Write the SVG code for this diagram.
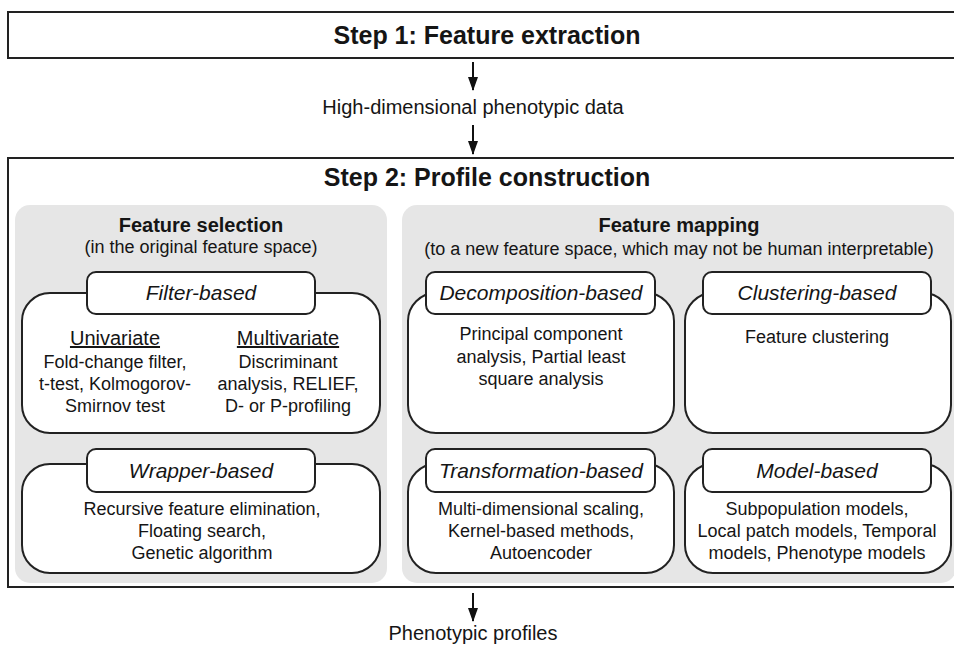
<svg xmlns="http://www.w3.org/2000/svg" width="954" height="645" viewBox="0 0 954 645">
<defs>
<style>
text{font-family:"Liberation Sans",Arial,sans-serif;fill:#151515;text-anchor:middle}
.title{font-size:25px;font-weight:bold}
.head{font-size:20px;font-weight:bold}
.sub{font-size:18px}
.lbl{font-size:20px}
.tab{font-size:21px;font-style:italic}
.body{font-size:18px}
.cat{font-size:20px;text-decoration:underline}
.step{fill:#fff;stroke:#222;stroke-width:2}
.panel{fill:#e6e6e6;stroke:none}
.outer{fill:#fff;stroke:#222;stroke-width:2}
.tabbox{fill:#fff;stroke:#222;stroke-width:2}
.conn{stroke:#111;stroke-width:2;fill:none}
</style>
<marker id="ah" viewBox="0 0 14 10" refX="13" refY="5" markerWidth="14" markerHeight="10" markerUnits="userSpaceOnUse" orient="auto">
<path d="M0,0 L14,5 L0,10 Z" fill="#111"/>
</marker>
</defs>

<g id="step1">
<rect class="step" x="8" y="12" width="960" height="46"/>
<text class="title" x="487" y="44">Step 1: Feature extraction</text>
</g>

<g id="data-label">
<text class="lbl" x="473" y="114">High-dimensional phenotypic data</text>
</g>

<g id="step2">
<rect class="step" x="8" y="158" width="960" height="429"/>
<text class="title" x="487" y="186">Step 2: Profile construction</text>
</g>

<g id="feature-selection">
<rect class="panel" x="15" y="205" width="372" height="378" rx="15"/>
<text class="head" x="201" y="232">Feature selection</text>
<text class="sub" x="201" y="253">(in the original feature space)</text>
</g>

<g id="feature-mapping">
<rect class="panel" x="402" y="205" width="554" height="378" rx="15"/>
<text class="head" x="679" y="232">Feature mapping</text>
<text class="sub" x="679" y="255">(to a new feature space, which may not be human interpretable)</text>
</g>

<g id="filter-based">
<rect class="outer" x="22" y="293" width="358" height="140" rx="28"/>
<rect class="tabbox" x="87" y="272" width="228" height="42" rx="9"/>
<text class="tab" x="201" y="300">Filter-based</text>
<text class="cat" x="115" y="345">Univariate</text>
<text class="body" x="115" y="368">Fold-change filter,</text>
<text class="body" x="115" y="390">t-test, Kolmogorov-</text>
<text class="body" x="115" y="412">Smirnov test</text>
<text class="cat" x="288" y="345">Multivariate</text>
<text class="body" x="288" y="368">Discriminant</text>
<text class="body" x="288" y="390">analysis, RELIEF,</text>
<text class="body" x="288" y="412">D- or P-profiling</text>
</g>

<g id="wrapper-based">
<rect class="outer" x="22" y="464" width="358" height="109" rx="28"/>
<rect class="tabbox" x="87" y="449" width="228" height="43" rx="9"/>
<text class="tab" x="201" y="478">Wrapper-based</text>
<text class="body" x="202" y="515">Recursive feature elimination,</text>
<text class="body" x="202" y="537">Floating search,</text>
<text class="body" x="202" y="559">Genetic algorithm</text>
</g>

<g id="decomposition-based">
<rect class="outer" x="408" y="293" width="266" height="140" rx="28"/>
<rect class="tabbox" x="426" y="272" width="229" height="42" rx="9"/>
<text class="tab" x="541" y="300">Decomposition-based</text>
<text class="body" x="541" y="340">Principal component</text>
<text class="body" x="541" y="363">analysis, Partial least</text>
<text class="body" x="541" y="385">square analysis</text>
</g>

<g id="clustering-based">
<rect class="outer" x="685" y="293" width="266" height="140" rx="28"/>
<rect class="tabbox" x="703" y="272" width="228" height="42" rx="9"/>
<text class="tab" x="817" y="300">Clustering-based</text>
<text class="body" x="817" y="343">Feature clustering</text>
</g>

<g id="transformation-based">
<rect class="outer" x="408" y="464" width="266" height="109" rx="28"/>
<rect class="tabbox" x="426" y="449" width="229" height="43" rx="9"/>
<text class="tab" x="541" y="478">Transformation-based</text>
<text class="body" x="541" y="515">Multi-dimensional scaling,</text>
<text class="body" x="541" y="537">Kernel-based methods,</text>
<text class="body" x="541" y="559">Autoencoder</text>
</g>

<g id="model-based">
<rect class="outer" x="685" y="464" width="266" height="109" rx="28"/>
<rect class="tabbox" x="703" y="449" width="228" height="43" rx="9"/>
<text class="tab" x="817" y="478">Model-based</text>
<text class="body" x="817" y="515">Subpopulation models,</text>
<text class="body" x="817" y="537">Local patch models, Temporal</text>
<text class="body" x="817" y="559">models, Phenotype models</text>
</g>

<g id="profiles-label">
<text class="lbl" x="473" y="640">Phenotypic profiles</text>
</g>

<g id="connectors">
<line class="conn" x1="473" y1="62" x2="473" y2="90" marker-end="url(#ah)"/>
<line class="conn" x1="473" y1="125" x2="473" y2="154" marker-end="url(#ah)"/>
<line class="conn" x1="473" y1="593" x2="473" y2="621" marker-end="url(#ah)"/>
</g>
</svg>
